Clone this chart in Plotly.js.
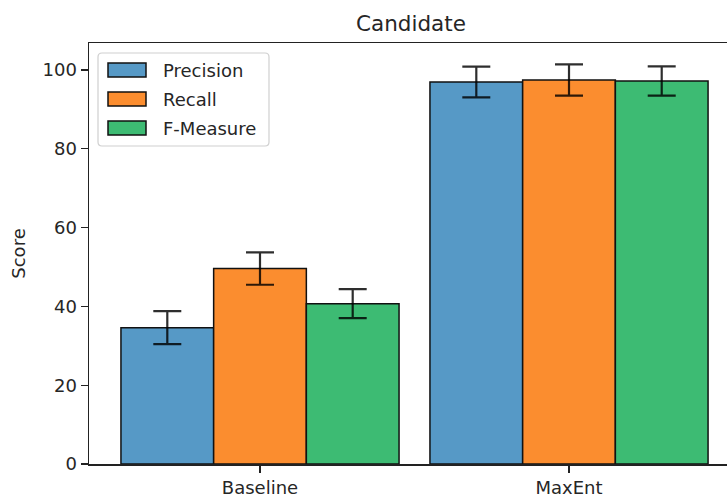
<!DOCTYPE html>
<html>
<head>
<meta charset="utf-8">
<script src="https://cdn.plot.ly/plotly-3.0.1.min.js"></script>
<style>
  html, body { margin: 0; padding: 0; background: #ffffff; overflow: hidden; }
  #chart { width: 727px; height: 498px; }
</style>
</head>
<body>
<div id="chart"></div>
<script>
// Model comparison: mean scores with error bars
const categories = ['Baseline', 'MaxEnt'];
const seriesNames = ['Precision', 'Recall', 'F-Measure'];
const precision = [34.6, 96.95];
const recall = [49.6, 97.45];
const fMeasure = [40.7, 97.2];
const precisionErr = [4.2, 3.9];
const recallErr = [4.1, 3.95];
const fMeasureErr = [3.7, 3.7];
const yTicks = [0, 20, 40, 60, 80, 100];

const colors = ['#5699c6', '#fb8d2f', '#3dbb73'];
const values = [precision, recall, fMeasure];
const errors = [precisionErr, recallErr, fMeasureErr];
const xPos = categories.map((c, i) => i);

const FONT = 'DejaVu Sans, Liberation Sans, sans-serif';
const INK = '#262626';

const traces = seriesNames.map((name, k) => ({
  type: 'bar',
  name: name,
  x: xPos,
  y: values[k],
  marker: { color: colors[k], line: { color: '#111111', width: 1.5 } },
  error_y: {
    type: 'data', array: errors[k], visible: true,
    color: 'rgba(0,0,0,0.82)', thickness: 2.2, width: 14
  },
  showlegend: false,
  hoverinfo: 'x+y+name'
}));

// Plot-area geometry in pixels (used to place the legend box)
const W = 727, H = 498;
const M = { l: 89, r: 0, t: 43, b: 34 };
const pw = W - M.l - M.r, ph = H - M.t - M.b;
const px = (x) => (x - M.l) / pw;          // page px -> paper x
const py = (y) => (H - M.b - y) / ph;      // page px -> paper y

// Legend frame with rounded corners
function roundRect(x0, y0, x1, y1, r) {
  const X = (v) => px(v).toFixed(5), Y = (v) => py(v).toFixed(5);
  return `M ${X(x0 + r)},${Y(y0)} L ${X(x1 - r)},${Y(y0)} Q ${X(x1)},${Y(y0)} ${X(x1)},${Y(y0 + r)} ` +
         `L ${X(x1)},${Y(y1 - r)} Q ${X(x1)},${Y(y1)} ${X(x1 - r)},${Y(y1)} ` +
         `L ${X(x0 + r)},${Y(y1)} Q ${X(x0)},${Y(y1)} ${X(x0)},${Y(y1 - r)} ` +
         `L ${X(x0)},${Y(y0 + r)} Q ${X(x0)},${Y(y0)} ${X(x0 + r)},${Y(y0)} Z`;
}

const shapes = [{
  type: 'path', xref: 'paper', yref: 'paper',
  path: roundRect(98, 53, 269, 146, 4),
  fillcolor: 'rgba(255,255,255,0.8)',
  line: { color: '#d0d0d0', width: 1.2 }
}];
const annotations = [];
const rowY = [70, 99, 128];
seriesNames.forEach((name, k) => {
  shapes.push({
    type: 'rect', xref: 'paper', yref: 'paper',
    x0: px(108), x1: px(146), y0: py(rowY[k] - 7), y1: py(rowY[k] + 7),
    fillcolor: colors[k], line: { color: '#111111', width: 1.5 }
  });
  annotations.push({
    xref: 'paper', yref: 'paper', x: px(161), y: py(rowY[k]),
    xanchor: 'left', yanchor: 'middle', showarrow: false,
    text: name, font: { family: FONT, size: 18, color: INK }
  });
});

const layout = {
  width: W, height: H,
  margin: M,
  paper_bgcolor: '#ffffff', plot_bgcolor: '#ffffff',
  font: { family: FONT, size: 18, color: INK },
  title: {
    text: 'Candidate', font: { family: FONT, size: 21.5, color: INK },
    xref: 'paper', x: px(411), xanchor: 'center',
    yref: 'container', y: 1 - 23 / H, yanchor: 'middle'
  },
  barmode: 'group', bargap: 0.1, bargroupgap: 0,
  xaxis: {
    type: 'linear', range: [-0.5534, 1.5113],
    tickvals: xPos, ticktext: categories,
    showgrid: false, zeroline: false,
    showline: true, linecolor: '#222222', linewidth: 1.5, mirror: true,
    ticks: 'outside', ticklen: 7, tickwidth: 1.3, tickcolor: '#222222',
    tickfont: { family: FONT, size: 18, color: INK }
  },
  yaxis: {
    range: [0, 106.85],
    tickvals: yTicks,
    showgrid: false, zeroline: false,
    showline: true, linecolor: '#222222', linewidth: 1.5,
    ticks: 'outside', ticklen: 7, tickwidth: 1.3, tickcolor: '#222222',
    tickfont: { family: FONT, size: 18, color: INK },
    title: { text: 'Score', font: { family: FONT, size: 18, color: INK }, standoff: 12 }
  },
  shapes: shapes,
  annotations: annotations
};

Plotly.newPlot('chart', traces, layout, { displayModeBar: false, staticPlot: true });
</script>
</body>
</html>
